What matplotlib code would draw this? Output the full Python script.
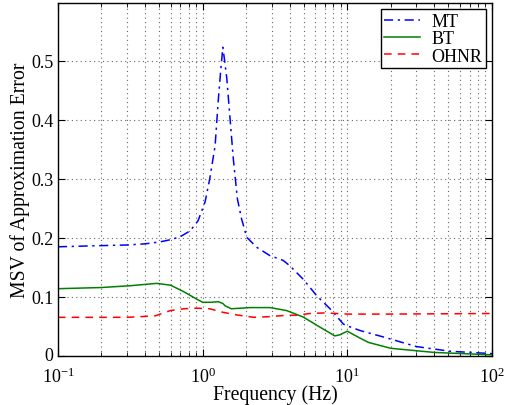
import numpy as np
import matplotlib
matplotlib.use("Agg")
import matplotlib.pyplot as plt
import matplotlib.transforms as mtransforms

# valori
f_mt = [0.1, 0.2, 0.3, 0.4, 0.5, 0.6, 0.7, 0.82, 0.93, 1.04, 1.12, 1.22, 1.28, 1.33,
        1.38, 1.42, 1.47, 1.55, 1.63, 1.74, 1.86, 2.02, 2.37, 2.92, 3.6, 4.0, 4.96,
        6.15, 7.6, 9.4, 10.0, 12.3, 17.9, 30, 51.5, 100]
mt = [0.185, 0.187, 0.188, 0.19, 0.193, 0.197, 0.202, 0.212, 0.229, 0.261, 0.30, 0.356,
      0.43, 0.48, 0.523, 0.50, 0.47, 0.40, 0.334, 0.266, 0.232, 0.201, 0.184, 0.17,
      0.162, 0.153, 0.13, 0.102, 0.08, 0.054, 0.051, 0.043, 0.032, 0.016, 0.008, 0.004]

f_bt = [0.1, 0.2, 0.315, 0.48, 0.6, 0.74, 0.885, 1.0, 1.15, 1.28, 1.38, 1.43, 1.58,
        2.13, 2.92, 3.8, 4.96, 6.46, 8.2, 8.9, 10.0, 12.3, 14, 20, 40, 100]
bt = [0.114, 0.116, 0.119, 0.123, 0.120, 0.109, 0.098, 0.091, 0.091, 0.092, 0.089,
      0.085, 0.080, 0.082, 0.082, 0.077, 0.066, 0.049, 0.034, 0.036, 0.042, 0.030,
      0.023, 0.013, 0.006, 0.002]

f_oh = [0.1, 0.3, 0.47, 0.6, 0.74, 0.91, 1.12, 1.38, 1.73, 2.25, 2.92, 3.8, 4.5,
        5.5, 7.0, 10.0, 20, 100]
oh = [0.0655, 0.0655, 0.068, 0.077, 0.080, 0.081, 0.080, 0.074, 0.0695, 0.0655,
      0.0667, 0.069, 0.069, 0.072, 0.073, 0.071, 0.071, 0.072]

y_ticks = [0, 0.1, 0.2, 0.3, 0.4, 0.5]

plt.rcParams["font.family"] = ["Liberation Serif", "DejaVu Serif"]
plt.rcParams["mathtext.fontset"] = "custom"
plt.rcParams["mathtext.rm"] = "Liberation Serif"

fig = plt.figure(figsize=(5.08, 4.06), dpi=100)
ax = fig.add_axes([0.114, 0.1207, 0.8545, 0.8695])

ax.plot(f_mt, mt, color="#0000ff", linestyle=(0, (6, 3, 1.5, 3)), linewidth=1.1, label="MT")
ax.plot(f_bt, bt, color="#008000", linestyle="-", linewidth=1.1, label="BT")
ax.plot(f_oh, oh, color="#ff0000", linestyle=(0, (5, 4)), linewidth=1.1, label="OHNR")

ax.set_xscale("log")
ax.set_xlim(0.1, 100)
ax.set_ylim(0, 0.598)
ax.set_yticks(y_ticks)
ax.set_yticklabels([f"{v:g}" for v in y_ticks])

ax.grid(True, which="major", linestyle=(0, (1, 3)), color="0.4", linewidth=0.8)
ax.grid(True, which="minor", axis="x", linestyle=(0, (1, 3)), color="0.4", linewidth=0.8)
ax.tick_params(which="both", direction="in", top=True, right=True, labelsize=13)
ax.tick_params(which="major", length=5)
ax.tick_params(which="minor", length=3)
ax.tick_params(axis="x", which="major", pad=7.5)
ax.tick_params(axis="y", which="major", pad=3)
for s in ax.spines.values():
    s.set_linewidth(1.0)

# sposta un po' in alto l'etichetta "0" per non toccare 10^-1
lab0 = ax.get_yticklabels()[0]
lab0.set_transform(lab0.get_transform() + mtransforms.ScaledTranslation(0, 2 / 72, fig.dpi_scale_trans))

ax.set_xlabel("Frequency (Hz)", fontsize=14.2, labelpad=-1)
ax.set_ylabel("MSV of Approximation Error", fontsize=14.2, labelpad=1)

leg = ax.legend(loc="upper right", fontsize=13, fancybox=False, framealpha=1,
                edgecolor="black", handlelength=2.0, borderpad=0.2, labelspacing=0.02,
                handletextpad=0.6, borderaxespad=0.35)
leg.get_frame().set_linewidth(1.0)

plt.savefig("out.png", dpi=100)
